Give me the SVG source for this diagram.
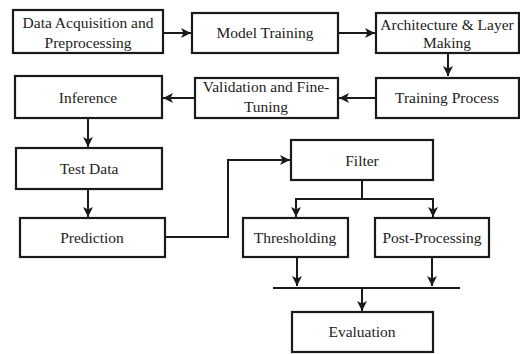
<svg xmlns="http://www.w3.org/2000/svg" width="520" height="354" viewBox="0 0 520 354" font-family="Liberation Serif, Times New Roman, Times, serif">
<style>
.box{fill:#fff;stroke:#1a1a1a;stroke-width:2.2}
.t{font-size:15.5px;fill:#222;text-anchor:middle}
.c{fill:none;stroke:#1a1a1a;stroke-width:2}
</style>
<defs>
<marker id="ah" markerUnits="userSpaceOnUse" markerWidth="11" markerHeight="11" refX="10" refY="5" orient="auto">
<path d="M0,0 L10,5 L0,10 L2.5,5 z" fill="#1a1a1a"/>
</marker>
</defs>
<rect width="520" height="354" fill="#fff"/>
<g id="connectors">
<line class="c" x1="163" y1="33" x2="191" y2="33" marker-end="url(#ah)"/>
<line class="c" x1="338" y1="33" x2="375" y2="33" marker-end="url(#ah)"/>
<line class="c" x1="448" y1="53" x2="448" y2="76" marker-end="url(#ah)"/>
<line class="c" x1="376" y1="98" x2="339" y2="98" marker-end="url(#ah)"/>
<line class="c" x1="195" y1="98" x2="163" y2="98" marker-end="url(#ah)"/>
<line class="c" x1="88" y1="118" x2="88" y2="147" marker-end="url(#ah)"/>
<line class="c" x1="88" y1="189" x2="88" y2="217" marker-end="url(#ah)"/>
<polyline class="c" points="165,237 228,237 228,160 290,160" marker-end="url(#ah)"/>
<polyline class="c" points="362,180 362,199"/>
<polyline class="c" points="296,217 296,199 433,199 433,217" marker-end="url(#ah)"/>
<line class="c" x1="296" y1="199" x2="296" y2="217" marker-end="url(#ah)"/>
<line class="c" x1="297" y1="257" x2="297" y2="286" marker-end="url(#ah)"/>
<line class="c" x1="432" y1="257" x2="432" y2="286" marker-end="url(#ah)"/>
<line class="c" x1="273" y1="288" x2="460" y2="288"/>
<line class="c" x1="362" y1="288" x2="362" y2="311" marker-end="url(#ah)"/>
</g>
<g id="data-acquisition">
<rect class="box" x="13" y="10" width="150" height="43"/>
<text class="t" x="88" y="28">Data Acquisition and</text>
<text class="t" x="88" y="48">Preprocessing</text>
</g>
<g id="model-training">
<rect class="box" x="192" y="13" width="146" height="40"/>
<text class="t" x="265" y="38">Model Training</text>
</g>
<g id="architecture">
<rect class="box" x="376" y="13" width="143" height="40"/>
<text class="t" x="447" y="30">Architecture &amp; Layer</text>
<text class="t" x="447" y="48">Making</text>
</g>
<g id="training-process">
<rect class="box" x="376" y="78" width="143" height="40"/>
<text class="t" x="447" y="103">Training Process</text>
</g>
<g id="validation">
<rect class="box" x="195" y="78" width="143" height="40"/>
<text class="t" x="266" y="92">Validation and Fine-</text>
<text class="t" x="266" y="112">Tuning</text>
</g>
<g id="inference">
<rect class="box" x="15" y="76" width="147" height="42"/>
<text class="t" x="88" y="103">Inference</text>
</g>
<g id="test-data">
<rect class="box" x="16" y="148" width="146" height="41"/>
<text class="t" x="89" y="174">Test Data</text>
</g>
<g id="prediction">
<rect class="box" x="20" y="218" width="145" height="39"/>
<text class="t" x="92" y="243">Prediction</text>
</g>
<g id="filter">
<rect class="box" x="291" y="140" width="142" height="40"/>
<text class="t" x="362" y="166">Filter</text>
</g>
<g id="thresholding">
<rect class="box" x="243" y="218" width="105" height="39"/>
<text class="t" x="295" y="243">Thresholding</text>
</g>
<g id="post-processing">
<rect class="box" x="375" y="218" width="114" height="39"/>
<text class="t" x="432" y="243">Post-Processing</text>
</g>
<g id="evaluation">
<rect class="box" x="292" y="312" width="141" height="40"/>
<text class="t" x="362" y="337">Evaluation</text>
</g>
</svg>
